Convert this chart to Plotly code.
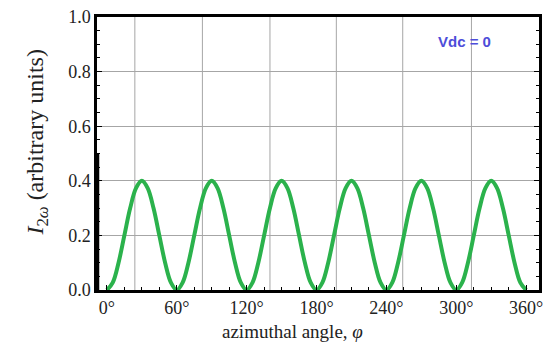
import plotly.graph_objects as go

# azimuthal angle (degrees), read at 5-degree steps
angle_deg = list(range(0, 365, 5))
# I_2w (arbitrary units)
intensity = [
    0.0, 0.027, 0.10, 0.20, 0.30, 0.373, 0.40, 0.373, 0.30, 0.20, 0.10, 0.027,
    0.0, 0.027, 0.10, 0.20, 0.30, 0.373, 0.40, 0.373, 0.30, 0.20, 0.10, 0.027,
    0.0, 0.027, 0.10, 0.20, 0.30, 0.373, 0.40, 0.373, 0.30, 0.20, 0.10, 0.027,
    0.0, 0.027, 0.10, 0.20, 0.30, 0.373, 0.40, 0.373, 0.30, 0.20, 0.10, 0.027,
    0.0, 0.027, 0.10, 0.20, 0.30, 0.373, 0.40, 0.373, 0.30, 0.20, 0.10, 0.027,
    0.0, 0.027, 0.10, 0.20, 0.30, 0.373, 0.40, 0.373, 0.30, 0.20, 0.10, 0.027,
    0.0,
]
x_tick_vals = [0, 60, 120, 180, 240, 300, 360]
x_tick_text = ["0°", "60°", "120°", "180°", "240°", "300°", "360°"]
y_tick_vals = [0.0, 0.2, 0.4, 0.6, 0.8, 1.0]
y_tick_text = ["0.0", "0.2", "0.4", "0.6", "0.8", "1.0"]
# vertical grid lines (offset from the tick labels in the original)
x_grid_vals = [24, 82, 140, 197, 254, 313]

X_RANGE = [-8.5, 371]
SERIF = "Liberation Serif, Times New Roman, serif"
W, H = 550, 347
ML, MR, MT, MB = 97, 7, 15, 57
PW, PH = W - ML - MR, H - MT - MB


def px_to_paper(px, py):
    return (px - ML) / PW, 1 - (py - MT) / PH


fig = go.Figure()
fig.add_trace(go.Scatter(
    x=angle_deg, y=intensity, mode="lines",
    line=dict(color="#2bb24c", width=4, shape="spline", smoothing=1.0),
    cliponaxis=False, showlegend=False, hoverinfo="skip",
))

shapes = [
    dict(type="line", xref="x", yref="paper", x0=g, x1=g, y0=0, y1=1,
         line=dict(color="#a6a6a6", width=1), layer="below")
    for g in x_grid_vals
]
# thicker lower part of the left frame
_, thick_top = px_to_paper(0, 153)
shapes.append(dict(type="line", xref="paper", yref="paper", x0=0, x1=0, y0=0, y1=thick_top,
                   line=dict(color="black", width=4.5), layer="above"))

vx, vy = px_to_paper(468, 40)
tx, ty = px_to_paper(37, 141)
ax, ay = px_to_paper(294, 332)

fig.update_layout(
    width=W, height=H,
    margin=dict(l=ML, r=MR, t=MT, b=MB),
    paper_bgcolor="white", plot_bgcolor="white",
    shapes=shapes,
    xaxis=dict(
        range=X_RANGE, tickvals=x_tick_vals, ticktext=x_tick_text,
        showgrid=False, zeroline=False,
        showline=True, linecolor="black", linewidth=2.5, mirror=True,
        ticks="inside", ticklen=5, tickcolor="black",
        minor=dict(ticks="inside", ticklen=3, dtick=15, tickcolor="black", showgrid=False),
        tickfont=dict(family=SERIF, size=18, color="#222"),
    ),
    yaxis=dict(
        range=[0, 1], tickvals=y_tick_vals, ticktext=y_tick_text,
        showgrid=True, gridcolor="#a6a6a6", gridwidth=1, zeroline=False,
        showline=True, linecolor="black", linewidth=2.5, mirror="ticks",
        ticks="inside", ticklen=5, tickcolor="black",
        minor=dict(ticks="inside", ticklen=3, dtick=0.05, tickcolor="black", showgrid=False),
        tickfont=dict(family=SERIF, size=18, color="#222"),
    ),
    annotations=[
        dict(text="<b>Vdc = 0</b>", x=vx, y=vy, xref="paper", yref="paper",
             xanchor="center", yanchor="middle", showarrow=False,
             font=dict(family="Liberation Sans, Arial, sans-serif", size=15, color="#4d4dd9")),
        dict(text="<i>I</i><sub>2<i>ω</i></sub> (arbitrary units)", x=tx, y=ty,
             xref="paper", yref="paper", xanchor="center", yanchor="middle",
             textangle=-90, showarrow=False,
             font=dict(family=SERIF, size=24, color="#222")),
        dict(text="azimuthal angle, <i>φ</i>", x=ax, y=ay,
             xref="paper", yref="paper", xanchor="center", yanchor="middle",
             showarrow=False, font=dict(family=SERIF, size=19, color="#222")),
    ],
)

fig.write_html("out.html", config={"displayModeBar": False},
               post_script="document.body.style.margin='0';")
